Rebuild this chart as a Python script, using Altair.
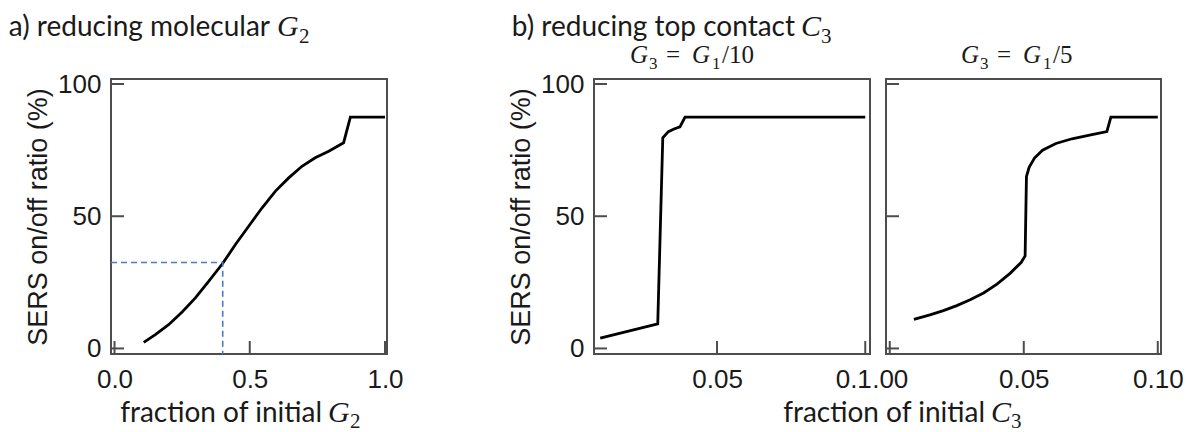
import altair as alt
import pandas as pd

# ---------------- data ----------------
# panel a) reducing molecular G2
a_x = [0.108, 0.151, 0.200, 0.250, 0.299, 0.348, 0.401, 0.447, 0.496, 0.545,
       0.595, 0.644, 0.693, 0.742, 0.792, 0.847, 0.872, 1.0]
a_y = [2.3, 5.2, 9.0, 13.8, 19.1, 25.4, 32.3, 39.3, 46.2, 53.1,
       59.5, 64.5, 68.9, 72.1, 74.6, 77.8, 87.5, 87.5]
a_dash_x = [-0.013, 0.4, 0.4]
a_dash_y = [32.5, 32.5, -2.1]

# panel b1) G3 = G1/10
b1_x = [0.0106, 0.0300, 0.0317, 0.0336, 0.0355, 0.0375, 0.0392, 0.1]
b1_y = [3.9, 9.3, 79.7, 82.0, 83.0, 83.8, 87.5, 87.5]

# panel b2) G3 = G1/5
b2_x = [0.009, 0.015, 0.020, 0.025, 0.030, 0.035, 0.040, 0.045, 0.049, 0.0505,
        0.051, 0.052, 0.054, 0.057, 0.062, 0.068, 0.075, 0.081, 0.0825, 0.1]
b2_y = [11.0, 12.7, 14.3, 16.2, 18.4, 21.0, 24.3, 28.5, 32.5, 35.0,
        65.0, 68.5, 72.0, 75.0, 77.5, 79.3, 80.8, 82.0, 87.5, 87.5]

y_ticks = [0, 50, 100]
a_xticks = [0.0, 0.5, 1.0]
b1_xticks = [0.05, 0.1]
b2_xticks = [0.0, 0.05, 0.1]

Y_DOMAIN = [-2.1, 101.9]
A_DOMAIN = [-0.013, 1.0074]
B1_DOMAIN = [0.0085, 0.1016]
B2_DOMAIN = [-0.0014, 0.1012]
H = 275
TICK = 13

SANS = "Liberation Sans"
TITLE_FONT = "Lato"
SERIF = "Liberation Serif"
TXT = "#1a1a1a"
FRAME = "#4d4d4d"


def text_layer(txt, x, y, font, size, align="left", style="normal"):
    return alt.Chart(alt.Data(values=[{}])).mark_text(
        text=txt, align=align, baseline="alphabetic", font=font,
        fontSize=size, fontStyle=style, color=TXT
    ).encode(x=alt.value(x), y=alt.value(y))


def panel(xs, ys, xdom, xticks, label_expr, width, yaxis, texts,
          label_offset=None, extra=None):
    df = pd.DataFrame({"x": xs, "y": ys, "i": list(range(len(xs)))})
    xscale = alt.Scale(domain=xdom, nice=False, zero=False)
    yscale = alt.Scale(domain=Y_DOMAIN, nice=False, zero=False)
    axis_kw = dict(values=xticks, ticks=False, domain=False, grid=False,
                   labelExpr=label_expr, labelFont=SANS, labelFontSize=26,
                   labelColor=TXT, labelPadding=12, labelFlush=False,
                   labelOverlap=False, title=None)
    if label_offset is not None:
        axis_kw["labelOffset"] = label_offset
    xaxis = alt.Axis(**axis_kw)
    line = alt.Chart(df).mark_line(color="black", strokeWidth=2.8).encode(
        x=alt.X("x:Q", scale=xscale, axis=xaxis),
        y=alt.Y("y:Q", scale=yscale, axis=yaxis),
        order="i:Q",
    )
    ytk = alt.Chart(pd.DataFrame({"y": y_ticks})).mark_rule(
        color=FRAME, strokeWidth=2).encode(
        y=alt.Y("y:Q", scale=yscale), x=alt.value(0), x2=alt.value(TICK))
    xtk = alt.Chart(pd.DataFrame({"x": xticks})).mark_rule(
        color=FRAME, strokeWidth=2).encode(
        x=alt.X("x:Q", scale=xscale), y=alt.value(H), y2=alt.value(H - TICK))
    layers = [line, ytk, xtk]
    if extra is not None:
        layers += extra
    layers += texts
    return alt.layer(*layers).properties(width=width, height=H)


yaxis_main = alt.Axis(values=y_ticks, ticks=False, domain=False, grid=False,
                      labelFont=SANS, labelFontSize=26, labelColor=TXT,
                      labelPadding=10, labelOverlap=False,
                      title="SERS on/off ratio (%)", titleFont=SANS,
                      titleFontSize=27, titleFontWeight="normal",
                      titleColor=TXT, titlePadding=5)

# dashed guide in panel a
dash_df = pd.DataFrame({"x": a_dash_x, "y": a_dash_y, "i": [0, 1, 2]})
dash = alt.Chart(dash_df).mark_line(
    color="#4a7ac8", strokeWidth=1.6, strokeDash=[6, 4]).encode(
    x=alt.X("x:Q", scale=alt.Scale(domain=A_DOMAIN, nice=False, zero=False)),
    y=alt.Y("y:Q", scale=alt.Scale(domain=Y_DOMAIN, nice=False, zero=False)),
    order="i:Q")

anchor = alt.Chart(alt.Data(values=[{}])).mark_rule(
    color="white", strokeWidth=1).encode(
    x=alt.value(-109), x2=alt.value(-108), y=alt.value(-77.5), y2=alt.value(-77.5))

a_texts = [
    text_layer("a) reducing molecular", 159, -43, TITLE_FONT, 28, "right"),
    text_layer("G", 166, -43, SERIF, 30, style="italic"),
    text_layer("2", 188, -36, SERIF, 21),
    text_layer("fraction of initial", 211, 343, TITLE_FONT, 28, "right"),
    text_layer("G", 217, 343, SERIF, 30, style="italic"),
    text_layer("2", 239, 349, SERIF, 21),
]

b1_texts = [
    text_layer("b) reducing top contact", 201, -43, TITLE_FONT, 28, "right"),
    text_layer("C", 207, -43, SERIF, 30, style="italic"),
    text_layer("3", 227, -36, SERIF, 21),
    text_layer("G", 36, -16, SERIF, 25, style="italic"),
    text_layer("3", 55, -10, SERIF, 17),
    text_layer("=", 72, -16, SERIF, 25),
    text_layer("G", 98, -16, SERIF, 25, style="italic"),
    text_layer("1", 118, -10, SERIF, 17),
    text_layer("/10", 128, -16, SERIF, 25),
    text_layer("fraction of initial", 391, 343, TITLE_FONT, 28, "right"),
    text_layer("C", 397, 343, SERIF, 30, style="italic"),
    text_layer("3", 417, 349, SERIF, 21),
]

b2_texts = [
    text_layer("G", 75, -16, SERIF, 25, style="italic"),
    text_layer("3", 94, -10, SERIF, 17),
    text_layer("=", 111, -16, SERIF, 25),
    text_layer("G", 137, -16, SERIF, 25, style="italic"),
    text_layer("1", 157, -10, SERIF, 17),
    text_layer("/5", 167, -16, SERIF, 25),
]

pa = panel(a_x, a_y, A_DOMAIN, a_xticks, "format(datum.value, '.1f')", 276,
           yaxis_main, a_texts, extra=[dash, anchor])
pb1 = panel(b1_x, b1_y, B1_DOMAIN, b1_xticks,
            "datum.value > 0.08 ? '0.1' : format(datum.value, '.2f')", 276,
            yaxis_main, b1_texts,
            label_offset={"condition": {"test": "datum.value > 0.08", "value": -12},
                          "value": 0})
pb2 = panel(b2_x, b2_y, B2_DOMAIN, b2_xticks,
            "datum.value < 0.01 ? '.00' : format(datum.value, '.2f')", 275,
            None, b2_texts)

inner = alt.hconcat(pb1, pb2, spacing=16, bounds="flush")
chart = alt.hconcat(pa, inner, spacing=207, bounds="flush").properties(
    padding=0, background="white"
).configure_view(stroke=FRAME, strokeWidth=2)

chart.save("out.html", embed_options={"renderer": "svg", "actions": False})
